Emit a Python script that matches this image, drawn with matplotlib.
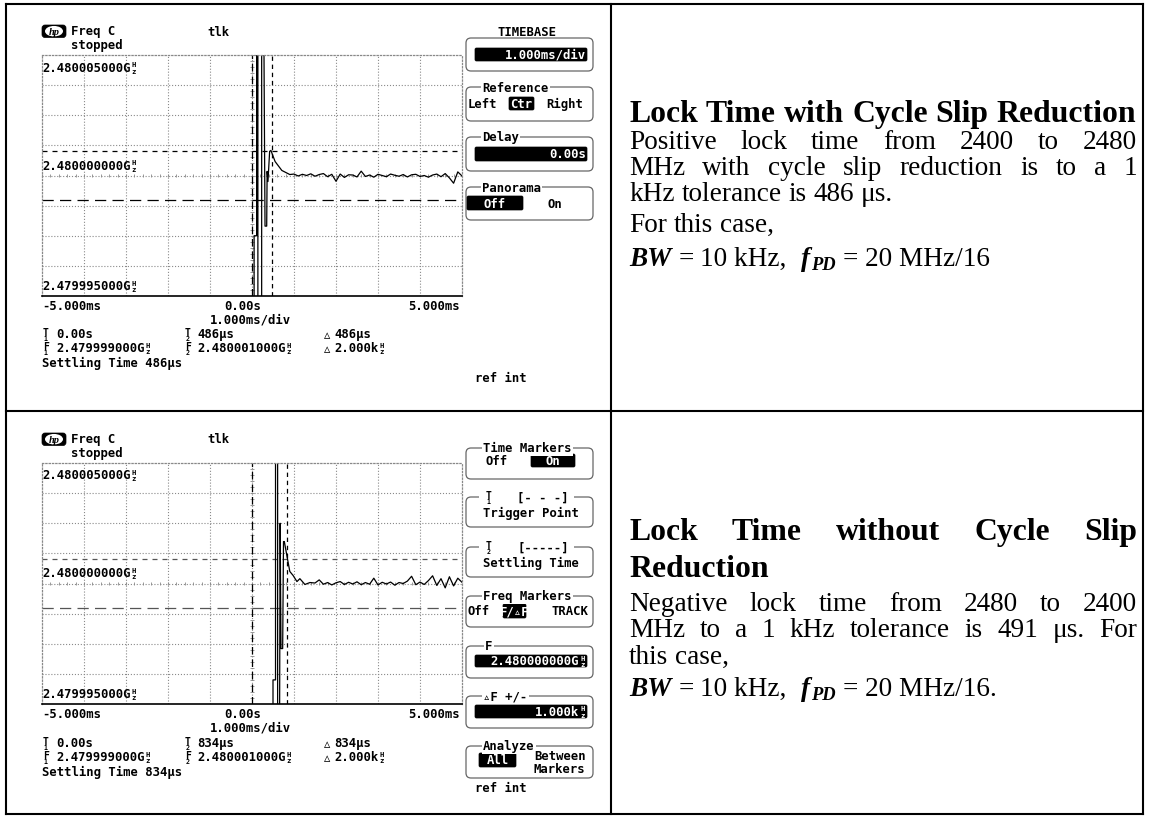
import numpy as np
import matplotlib
matplotlib.use("Agg")
import matplotlib.pyplot as plt
from matplotlib.patches import FancyBboxPatch, Rectangle, Ellipse

# ---------------------------
# DATA
# ---------------------------
# x in ms relative to trigger, y in kHz offset from 2.480000000 GHz
top_t = [0.05, 0.05, 0.11, 0.11, 0.14, 0.14, 0.23, 0.23, 0.27, 0.29, 0.31, 0.35,
         0.36, 0.38, 0.42, 0.45, 0.55, 0.71, 0.90,
         1.0, 1.1, 1.2, 1.3, 1.4, 1.5, 1.6, 1.7, 1.8, 1.9, 2.0, 2.1, 2.2, 2.3,
         2.4, 2.5, 2.6, 2.7, 2.8, 2.9, 3.0, 3.1, 3.2, 3.3, 3.4, 3.5, 3.6, 3.7,
         3.8, 3.9, 4.0, 4.1, 4.2, 4.3, 4.4, 4.5, 4.6, 4.7, 4.8, 4.9, 5.0]
top_f = [-10, -2.5, -2.5, 10, 10, -10, -10, 10, 10, 3.7, -2.1, -2.1,
         0.17, -0.25, 1.0, 1.04, 0.58, 0.21, 0.04,
         0.06, -0.02, 0.05, 0.00, 0.07, -0.03, 0.04, 0.08, -0.05, 0.05, -0.24,
         0.06, -0.08, 0.03, 0.02, -0.06, 0.18, -0.04, 0.02, -0.07, 0.05, 0.00,
         -0.05, 0.06, 0.01, -0.03, 0.04, -0.06, 0.03, 0.05, -0.04, 0.00, -0.07,
         0.02, 0.06, -0.05, 0.08, -0.10, -0.32, 0.15, -0.02]

bot_t = [0.50, 0.50, 0.56, 0.56, 0.61, 0.61, 0.65, 0.67, 0.69, 0.73, 0.75, 0.77,
         0.83, 0.90, 0.98, 1.07, 1.14, 1.26, 1.38,
         1.5, 1.6, 1.7, 1.8, 1.9, 2.0, 2.1, 2.2, 2.3, 2.4, 2.5, 2.6, 2.7, 2.8,
         2.9, 3.0, 3.1, 3.2, 3.3, 3.4, 3.5, 3.6, 3.7, 3.8, 3.9, 4.0, 4.1, 4.2,
         4.3, 4.4, 4.5, 4.6, 4.7, 4.8, 4.9, 5.0]
bot_f = [-10, -4.0, -4.0, 10, 10, -10, -10, 2.5, -2.7, -2.7, 1.74, 1.74,
         1.16, 0.5, 0.33, 0.08, 0.2, -0.04, 0.04,
         0.02, 0.15, -0.03, 0.04, -0.06, 0.03, 0.08, -0.04, 0.05, -0.02, 0.07,
         -0.05, 0.04, -0.03, 0.22, -0.06, 0.05, -0.02, 0.06, -0.07, 0.04, 0.00,
         0.10, 0.30, -0.05, 0.06, -0.04, 0.12, 0.32, -0.08, 0.20, -0.18, 0.28,
         -0.10, 0.22, 0.05]

freq_labels = ["2.480005000GHz", "2.480000000GHz", "2.479995000GHz"]
time_labels = ["-5.000ms", "0.00s", "5.000ms"]
settle_us = [486, 834]
f1_khz, f2_khz = -1.0, 1.0

title_top = "Lock Time with Cycle Slip Reduction"
body_top = ["Positive lock time from 2400 to 2480",
            "MHz with cycle slip reduction is to a 1",
            "kHz tolerance is 486 \u03bcs."]
title_bot = ["Lock Time without Cycle Slip", "Reduction"]
body_bot = ["Negative lock time from 2480 to 2400",
            "MHz to a 1 kHz tolerance is 491 \u03bcs. For",
            "this case,"]

# ---------------------------
# FIGURE / CANVAS
# ---------------------------
W, H = 1149, 820
fig = plt.figure(figsize=(W / 100, H / 100), dpi=100)
ax0 = fig.add_axes([0, 0, 1, 1])
ax0.set_xlim(0, W)
ax0.set_ylim(H, 0)
ax0.axis("off")
ax0.set_zorder(5)
renderer = fig.canvas.get_renderer()

MONO = dict(family=["DejaVu Sans Mono", "DejaVu Sans"], weight="bold", size=8.8)
CW = 8.8 * 100 / 72 * 0.602
SERIF = "Liberation Serif"


def mono(x, y, s, color="black", ha="left", bg=None):
    hz = s.endswith("Hz")
    main = s[:-2] if hz else s
    ncell = len(main) + (1 if hz else 0)
    if ha == "right":
        x = x - ncell * CW
    elif ha == "center":
        x = x - ncell * CW / 2
    kw = dict(MONO)
    if bg:
        kw["bbox"] = dict(fc=bg, ec="none", pad=1.0)
    ax0.text(x, y, main, va="center", ha="left", color=color, **kw)
    if hz:
        hx = x + len(main) * CW + CW / 2
        ax0.text(hx, y - 3, "H", va="center", ha="center", color=color,
                 family="DejaVu Sans Mono", weight="bold", size=5.2)
        ax0.text(hx, y + 3.5, "z", va="center", ha="center", color=color,
                 family="DejaVu Sans Mono", weight="bold", size=5.2)


def stacked(x, y, top, bot):
    ax0.text(x + CW / 2, y - 2, top, va="center", ha="center",
             family="DejaVu Sans Mono", weight="bold", size=7)
    ax0.text(x + CW / 2, y + 4.5, bot, va="center", ha="center",
             family="DejaVu Sans Mono", weight="bold", size=4.8)


def delta(x, y):
    ax0.text(x, y, "\u25b5", ha="center", va="center",
             family="DejaVu Sans", size=9, weight="bold")


def box(y0, y1, x0=466, x1=593):
    ax0.add_patch(FancyBboxPatch((x0, y0), x1 - x0, y1 - y0,
                                 boxstyle="round,pad=0,rounding_size=5",
                                 fc="none", ec="#666666", lw=0.9))


def gap_in_border(x0, x1, y):
    ax0.add_patch(Rectangle((x0, y - 2.5), x1 - x0, 5, fc="white", ec="none"))


def field(x0, y0, x1, y1):
    ax0.add_patch(FancyBboxPatch((x0, y0), x1 - x0, y1 - y0,
                                 boxstyle="round,pad=0,rounding_size=1.5",
                                 fc="black", ec="black", lw=0.5))


# ---------------------------
# SCOPE SCREEN
# ---------------------------
def scope(dy, t, f, t2_ms, marker_color):
    top, bottom = 56 + dy, 297 + dy
    left, right = 42, 462
    ax = fig.add_axes([left / W, 1 - bottom / H, (right - left) / W, (bottom - top) / H])
    ax.set_xlim(-5, 5)
    ax.set_ylim(-5, 5)
    ax.set_xticks([])
    ax.set_yticks([])
    ax.patch.set_alpha(0)
    for s in ["top", "left", "right"]:
        ax.spines[s].set_linestyle(":")
        ax.spines[s].set_color("#888888")
        ax.spines[s].set_linewidth(0.9)
    ax.spines["bottom"].set_color("black")
    ax.spines["bottom"].set_linewidth(1.2)

    grid = dict(color="#8a8a8a", ls=":", lw=0.8)
    for gx in [-4, -3, -2, -1, 1, 2, 3, 4]:
        ax.axvline(gx, **grid)
    for gy in [-3.75, -2.5, -1.25, 1.25, 2.5, 3.75]:
        ax.axhline(gy, **grid)
    ax.axhline(0, **grid)
    ax.axvline(0, **grid)
    # small ticks on the centre lines
    ax.vlines(np.arange(-5, 5.01, 0.2), -0.08, 0.08, color="#888888", lw=0.6)
    ax.hlines(np.arange(-5, 5.01, 0.25), -0.05, 0.05, color="#888888", lw=0.6)

    # time and frequency markers
    ax.axvline(0, color="black", lw=0.9, dashes=(6, 4))
    ax.axvline(t2_ms, color="black", lw=0.9, dashes=(3.5, 3))
    ax.axhline(f2_khz, color=marker_color, lw=0.9, dashes=(4, 4))
    ax.axhline(f1_khz, color=marker_color, lw=0.9, dashes=(9, 5))

    ax.plot(t, f, color="black", lw=0.9)

    # texts around the screen
    ax0.add_patch(FancyBboxPatch((42, 26 + dy), 24, 12.5,
                                 boxstyle="round,pad=0,rounding_size=3",
                                 fc="black", ec="black", lw=0.5))
    ax0.add_patch(Ellipse((54, 32.2 + dy), 18, 10.5, fc="white", ec="none"))
    ax0.text(54, 32.5 + dy, "hp", ha="center", va="center", family=SERIF,
             style="italic", weight="bold", size=7.5)
    mono(71, 32 + dy, "Freq C")
    mono(71, 46 + dy, "stopped")
    mono(207, 32 + dy, "tlk")

    mono(42, 68 + dy, freq_labels[0])
    mono(42, 166 + dy, freq_labels[1])
    mono(42, 287 + dy, freq_labels[2])

    mono(42, 307 + dy, time_labels[0])
    mono(243, 307 + dy, time_labels[1], ha="center")
    mono(460, 307 + dy, time_labels[2], ha="right")
    mono(250, 320 + dy, "1.000ms/div", ha="center")


def readout(dy, us):
    stacked(42, 335 + dy, "T", "1")
    mono(56, 335 + dy, "0.00s")
    stacked(184, 335 + dy, "T", "2")
    mono(197, 335 + dy, f"{us}\u03bcs")
    delta(327, 335.5 + dy)
    mono(334, 335 + dy, f"{us}\u03bcs")

    stacked(42, 349 + dy, "F", "1")
    mono(56, 349 + dy, "2.479999000GHz")
    stacked(184, 349 + dy, "F", "2")
    mono(197, 349 + dy, "2.480001000GHz")
    delta(327, 349.5 + dy)
    mono(334, 349 + dy, "2.000kHz")
    mono(42, 363 + dy, f"Settling Time {us}\u03bcs")


scope(0, top_t, top_f, settle_us[0] / 1000, "black")
readout(0, settle_us[0])
scope(408, bot_t, bot_f, settle_us[1] / 1000, "#555555")
readout(409, settle_us[1])

# ---------------------------
# SOFTKEY PANELS
# ---------------------------
mono(527, 32, "TIMEBASE", ha="center")
box(39, 72)
field(475, 49, 587, 62)
mono(586, 55.5, "1.000ms/div", color="white", ha="right")

box(88, 122)
mono(482, 88, "Reference", bg="white")
mono(468, 104, "Left")
field(509, 98, 534, 111)
mono(521.5, 104, "Ctr", color="white", ha="center")
mono(546, 104, "Right")

box(138, 172)
mono(482, 138, "Delay", bg="white")
field(475, 148, 587, 162)
mono(586, 155, "0.00s", color="white", ha="right")

box(188, 221)
mono(482, 188, "Panorama", bg="white")
field(467, 197, 523, 211)
mono(495, 204, "Off", color="white", ha="center")
mono(547, 204, "On")
mono(475, 379, "ref int")

box(449, 480)
mono(483, 449, "Time Markers", bg="white")
mono(486, 462, "Off")
field(531, 455, 575, 468)
mono(553, 461.5, "On", color="white", ha="center")

box(498, 528)
gap_in_border(479, 574, 498)
stacked(485, 498, "T", "1")
mono(517, 498, "[- - -]")
mono(483, 513, "Trigger Point")

box(548, 578)
gap_in_border(479, 574, 548)
stacked(485, 548, "T", "2")
mono(517, 548, "[-----]")
mono(483, 563, "Settling Time")

box(597, 628)
mono(483, 597, "Freq Markers", bg="white")
mono(467, 612, "Off")
field(503, 605, 526, 619)
mono(514.5, 612, "F/\u25b5F", color="white", ha="center")
mono(551, 612, "TRACK")

box(647, 679)
mono(485, 647, "F", bg="white")
field(475, 656, 587, 668)
mono(586, 662, "2.480000000GHz", color="white", ha="right")

box(697, 729)
mono(483, 697, "\u25b5F +/-", bg="white")
field(475, 706, 587, 719)
mono(586, 712.5, "1.000kHz", color="white", ha="right")

box(747, 779)
mono(483, 747, "Analyze", bg="white")
field(479, 754, 516, 768)
mono(497.5, 761, "All", color="white", ha="center")
mono(534, 757, "Between")
mono(534, 770, "Markers")
mono(475, 789, "ref int")

# ---------------------------
# TABLE LINES
# ---------------------------
line = dict(color="black", lw=1.5, solid_capstyle="projecting")
ax0.plot([6, 1143], [5, 5], **line)
ax0.plot([6, 1143], [412, 412], **line)
ax0.plot([6, 1143], [815, 815], **line)
ax0.plot([6, 6], [5, 815], **line)
ax0.plot([611, 611], [5, 815], **line)
ax0.plot([1143, 1143], [5, 815], **line)


# ---------------------------
# RIGHT COLUMN TEXT
# ---------------------------
def measure(s, **kw):
    t = ax0.text(0, 0, s, **kw)
    w = t.get_window_extent(renderer).width
    t.remove()
    return w


X0, X1 = 629, 1137
body_size = 10 * 264 / measure(body_top[2], family=SERIF, size=10)
title_size = 10 * 507 / measure(title_top, family=SERIF, size=10, weight="bold")


def text_line(s, y, justify, size, weight="normal"):
    kw = dict(family=SERIF, size=size, weight=weight)
    words = s.split()
    ws = [measure(w, **kw) for w in words]
    if justify and len(words) > 1:
        gap = (X1 - X0 - sum(ws)) / (len(words) - 1)
    else:
        gap = measure("a a", **kw) - measure("aa", **kw)
    x = X0
    for w, wd in zip(words, ws):
        ax0.text(x, y, w, va="baseline", ha="left", **kw)
        x += wd + gap


def bw_line(y, tail):
    rg = dict(family=SERIF, size=body_size)
    bi = dict(family=SERIF, size=body_size, weight="bold", style="italic")
    sub = dict(family=SERIF, size=body_size * 0.68, weight="bold", style="italic")
    sp = measure("a a", **rg) - measure("aa", **rg)
    pieces = [("BW", bi, 0, sp), ("=", rg, 0, sp), ("10 kHz,", rg, 0, 2 * sp),
              ("f", bi, 0, 1.5), ("PD", sub, 4, sp), ("=", rg, 0, sp),
              ("20 MHz/16" + tail, rg, 0, 0)]
    x = X0
    for s, kw, off, gap in pieces:
        ax0.text(x, y + off, s, va="baseline", ha="left", **kw)
        x += measure(s, **kw) + gap


text_line(title_top, 122, False, title_size, "bold")
text_line(body_top[0], 149, True, body_size)
text_line(body_top[1], 175, True, body_size)
text_line(body_top[2], 201, False, body_size)
text_line("For this case,", 232, False, body_size)
bw_line(266, "")

text_line(title_bot[0], 540, True, title_size, "bold")
text_line(title_bot[1], 577, False, title_size, "bold")
text_line(body_bot[0], 611, True, body_size)
text_line(body_bot[1], 637, True, body_size)
text_line(body_bot[2], 664, False, body_size)
bw_line(696, ".")

fig.savefig("out.png", dpi=100)
plt.close()
